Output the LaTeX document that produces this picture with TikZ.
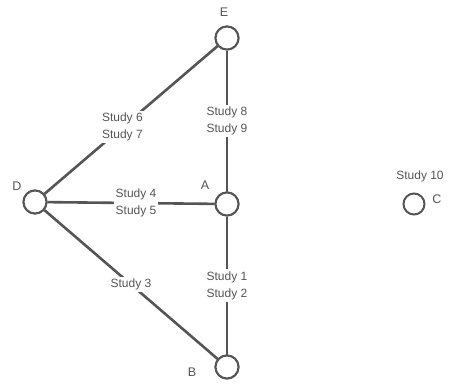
\documentclass[tikz,border=0pt]{standalone}
\usepackage{fontspec}
\setmainfont{Liberation Sans}
\definecolor{ink}{HTML}{555555}
\begin{document}
\begin{tikzpicture}[x=1pt,y=-1pt,
  vertex/.style={circle,draw=ink,line width=2pt,fill=white,minimum size=23pt,inner sep=0pt},
  link/.style={draw=ink,line width=2.6pt},
  study/.style={fill=white,text=ink,font=\fontsize{12}{17}\selectfont,align=center,inner xsep=1.5pt,inner ysep=2pt},
  vname/.style={text=ink,font=\fontsize{12.5}{14}\selectfont}]
\useasboundingbox (0,0) rectangle (459,384);
% vertices
\node[vertex] (E) at (227,38) {};
\node[vertex] (A) at (227,204) {};
\node[vertex] (D) at (35,202) {};
\node[vertex] (B) at (227,367) {};
\node[vertex,minimum size=21pt] (C) at (414,204) {};
% vertex names
\node[vname] (lE) at (224,12) {E};
\node[vname] (lA) at (205,185) {A};
\node[vname] (lD) at (17,186) {D};
\node[vname] (lB) at (192,372) {B};
\node[vname] (lC) at (437,199) {C};
% edges with their studies
\draw[link] (D) -- node[study,pos=0.45] (s67) {Study 6\\Study 7} (E);
\draw[link] (A) -- node[study] (s89) {Study 8\\Study 9} (E);
\draw[link] (D) -- node[study,pos=0.53] (s45) {Study 4\\Study 5} (A);
\draw[link] (D) -- node[study] (s3) {Study 3} (B);
\draw[link] (A) -- node[study] (s12) {Study 1\\Study 2} (B);
\node[vertex] at (E) {};
\node[vertex] at (A) {};
\node[vertex] at (D) {};
\node[vertex] at (B) {};
% study on the isolated vertex
\node[study] (s10) at (420,176) {Study 10};
\end{tikzpicture}
\end{document}
